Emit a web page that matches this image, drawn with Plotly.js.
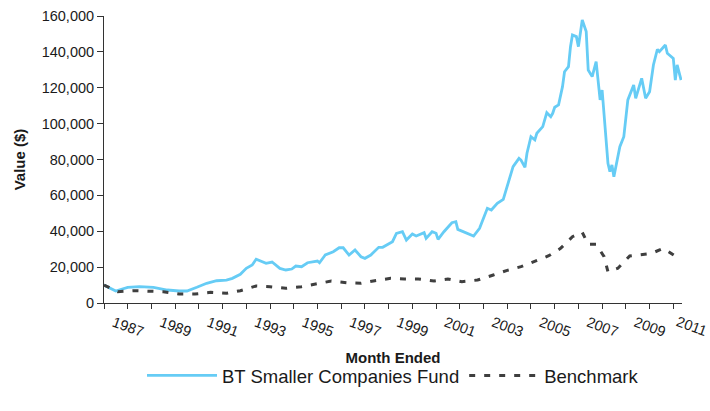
<!DOCTYPE html>
<html>
<head>
<meta charset="utf-8">
<script src="https://cdn.plot.ly/plotly-3.0.1.min.js"></script>
<style>
  html, body { margin: 0; padding: 0; background: #ffffff; }
  #chart { width: 710px; height: 411px; }
</style>
</head>
<body>
<div id="chart"></div>
<script>
const fundName = 'BT Smaller Companies Fund';
const benchName = 'Benchmark';

const fundDates = [
  '1986-01','1986-07','1987-01','1987-07','1988-02','1988-09','1989-03','1989-07','1989-12',
  '1990-05','1990-10','1991-03','1991-06','1991-10','1992-01','1992-04','1992-06','1992-11',
  '1993-02','1993-06','1993-09','1993-12','1994-02','1994-05','1994-08','1995-01','1995-02',
  '1995-05','1995-09','1995-12','1996-02','1996-05','1996-08','1996-11','1997-01','1997-04',
  '1997-08','1997-10','1998-03','1998-05','1998-08','1998-10','1999-01','1999-03','1999-07',
  '1999-08','1999-11','2000-01','2000-02','2000-05','2000-09','2000-11','2000-12','2001-03',
  '2001-05','2001-08','2001-11','2002-03','2002-05','2002-08','2002-11','2003-01','2003-04',
  '2003-07','2003-08','2003-10','2003-11','2004-01','2004-03','2004-04','2004-07','2004-09',
  '2004-11','2004-12','2005-01','2005-03','2005-05','2005-06','2005-08','2005-09','2005-10',
  '2005-12','2006-01','2006-03','2006-05','2006-06','2006-08','2006-10','2006-12','2007-01',
  '2007-04','2007-05','2007-06','2007-07','2007-10','2007-12','2008-02','2008-05','2008-06',
  '2008-09','2008-11','2009-01','2009-03','2009-05','2009-06','2009-09','2009-10','2010-01',
  '2010-02','2010-03','2010-05'
];
const fundValues = [
  10000, 6700, 8750, 9100, 8750, 7250, 6700, 6700, 8750,
  11000, 12400, 12800, 13750, 16000, 19300, 21200, 24350, 22100,
  22850, 19300, 18400, 18950, 20600, 20250, 22450, 23400, 22450,
  26750, 28600, 30800, 30800, 26750, 29550, 25800, 24900, 26750,
  31050, 31050, 34200, 38850, 39750, 35100, 38450, 37350, 39200,
  36050, 39750, 38850, 35500, 39750, 44750, 45300, 41050, 39750,
  38850, 37350, 41650, 52800, 51850, 55600, 57800, 65000, 76000,
  80650, 79700, 75650, 83500, 92700, 90900, 94600, 98300, 106100,
  103900, 105750, 109100, 110400, 120600, 128950, 131750, 142900, 149400,
  148500, 142900, 157800, 151300, 129900, 126200, 134550, 113200, 118750,
  77900, 73200, 77000, 70400, 87150, 92700, 113200, 121550, 114100,
  125250, 114100, 117800, 132700, 141450, 140100, 143850, 139200, 136400,
  124300, 132700, 124300
];

const benchDates = [
  '1986-01','1986-08','1987-04','1987-12','1988-07','1989-03','1989-11','1990-07','1991-03',
  '1991-10','1992-06','1993-01','1993-09','1994-05','1995-01','1995-08','1996-04','1996-11',
  '1997-06','1998-02','1998-09','1999-04','1999-12','2000-07','2001-02','2001-10','2002-06',
  '2003-01','2003-08','2004-03','2004-10','2005-04','2005-10','2006-03','2006-06','2006-10',
  '2007-02','2007-04','2007-09','2008-03','2008-08','2009-02','2009-08','2010-02','2010-05'
];
const benchValues = [
  10000, 6300, 6850, 6700, 6300, 5000, 5000, 5950, 5400,
  6850, 9500, 9100, 8200, 9100, 10600, 12250, 11300, 11000,
  12450, 13750, 13400, 13400, 12250, 13400, 11900, 12800, 15600,
  18200, 20250, 23400, 26350, 30450, 36950, 39400, 32700, 32700,
  25800, 17450, 19350, 26200, 26750, 27700, 30450, 25800, 24000
];

const xRange = ['1986-01-01', '2010-05-15'];
const extraTickLabel = '2011';
const extraTickDate = '2011-01-01';

const traces = [
  {
    x: fundDates, y: fundValues, name: fundName, type: 'scatter', mode: 'lines',
    line: { color: '#66ccf5', width: 2.8 }
  },
  {
    x: benchDates, y: benchValues, name: benchName, type: 'scatter', mode: 'lines',
    line: { color: '#3f3f3f', width: 3, dash: '6px,9px' }
  }
];

const t0 = new Date(xRange[0]).getTime();
const t1 = new Date(xRange[1]).getTime();
const tE = new Date(extraTickDate).getTime();
const extraFrac = (tE - t0) / (t1 - t0);

const axisColor = '#333333';
const layout = {
  width: 710, height: 411,
  margin: { l: 104, r: 28, t: 16, b: 108 },
  paper_bgcolor: '#ffffff', plot_bgcolor: '#ffffff',
  font: { family: 'Liberation Sans, Arial, sans-serif', size: 14.5, color: '#1a1a1a' },
  showlegend: true,
  xaxis: {
    type: 'date', range: xRange,
    tick0: '1987-01-01', dtick: 'M24', tickformat: '%Y',
    tickangle: 20, ticklabelshift: -14,
    ticks: 'outside', ticklen: 5, tickcolor: axisColor, tickwidth: 1,
    minor: { dtick: 'M12', ticks: 'outside', ticklen: 5, tickcolor: axisColor, tickwidth: 1, showgrid: false },
    showline: true, linecolor: axisColor, linewidth: 1,
    showgrid: false, zeroline: false,
    tickfont: { size: 14.5 },
    title: { text: 'Month Ended', font: { size: 15, weight: 'bold' }, standoff: 13 }
  },
  yaxis: {
    range: [0, 160000], dtick: 20000, tickformat: ',d',
    ticks: 'outside', ticklen: 6, tickcolor: axisColor, tickwidth: 1,
    showline: true, linecolor: axisColor, linewidth: 1,
    showgrid: false, zeroline: false,
    tickfont: { size: 14.5 },
    title: { text: 'Value ($)', font: { size: 15, weight: 'bold' }, standoff: 12 }
  },
  legend: {
    orientation: 'h', x: 0.5, xanchor: 'center', y: -0.254, yanchor: 'middle',
    font: { size: 18.5 }, itemwidth: 70, bgcolor: 'rgba(0,0,0,0)'
  },
  annotations: [
    {
      xref: 'paper', yref: 'paper', x: extraFrac, y: 0,
      text: extraTickLabel, showarrow: false, textangle: 20,
      xanchor: 'center', yanchor: 'top', xshift: -6, yshift: -8,
      font: { size: 14.5, color: '#1a1a1a' }
    }
  ]
};

Plotly.newPlot('chart', traces, layout, { displayModeBar: false, staticPlot: true });
</script>
</body>
</html>
